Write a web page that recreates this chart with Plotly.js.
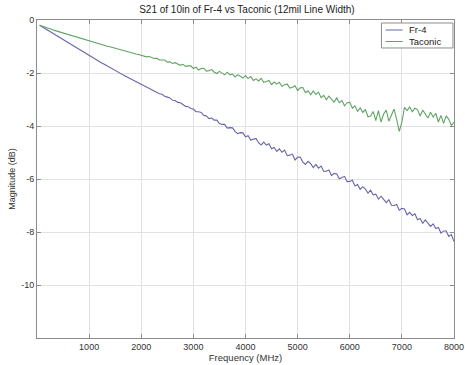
<!DOCTYPE html>
<html>
<head>
<meta charset="utf-8">
<script src="https://cdn.plot.ly/plotly-3.0.1.min.js"></script>
<style>html,body{margin:0;padding:0;background:#fff;}#chart{width:465px;height:365px;}</style>
</head>
<body>
<div id="chart"></div>
<script>
var freqMHz = [50,100,150,200,250,300,350,400,450,500,550,600,650,700,750,800,850,900,950,1000,
1050,1100,1150,1200,1250,1300,1350,1400,1450,1500,1550,1600,1650,1700,1750,1800,1850,1900,1950,2000,
2050,2100,2150,2200,2250,2300,2350,2400,2450,2500,2550,2600,2650,2700,2750,2800,2850,2900,2950,3000,
3050,3100,3150,3200,3250,3300,3350,3400,3450,3500,3550,3600,3650,3700,3750,3800,3850,3900,3950,4000,
4050,4100,4150,4200,4250,4300,4350,4400,4450,4500,4550,4600,4650,4700,4750,4800,4850,4900,4950,5000,
5050,5100,5150,5200,5250,5300,5350,5400,5450,5500,5550,5600,5650,5700,5750,5800,5850,5900,5950,6000,
6050,6100,6150,6200,6250,6300,6350,6400,6450,6500,6550,6600,6650,6700,6750,6800,6850,6900,6950,7000,
7050,7100,7150,7200,7250,7300,7350,7400,7450,7500,7550,7600,7650,7700,7750,7800,7850,7900,7950,8000];

var fr4dB = [-0.20,-0.26,-0.32,-0.38,-0.44,-0.50,-0.57,-0.63,-0.69,-0.75,-0.81,-0.87,-0.93,-0.99,-1.05,-1.11,-1.17,-1.23,-1.30,-1.36,
-1.41,-1.47,-1.52,-1.58,-1.63,-1.68,-1.74,-1.79,-1.85,-1.90,-1.96,-2.01,-2.07,-2.12,-2.17,-2.23,-2.28,-2.34,-2.40,-2.45,
-2.49,-2.55,-2.58,-2.64,-2.70,-2.72,-2.78,-2.80,-2.88,-2.91,-2.94,-3.03,-3.04,-3.11,-3.12,-3.19,-3.26,-3.27,-3.34,-3.36,
-3.46,-3.46,-3.49,-3.60,-3.62,-3.72,-3.70,-3.78,-3.78,-3.91,-3.94,-3.94,-4.08,-4.06,-4.07,-4.20,-4.29,-4.25,-4.26,-4.41,
-4.37,-4.53,-4.49,-4.47,-4.63,-4.72,-4.61,-4.72,-4.67,-4.86,-4.81,-4.96,-4.86,-4.99,-4.91,-5.12,-5.10,-5.06,-5.28,-5.18,
-5.17,-5.36,-5.45,-5.33,-5.42,-5.57,-5.45,-5.59,-5.51,-5.71,-5.71,-5.66,-5.87,-5.79,-5.81,-5.99,-5.94,-5.90,-6.10,-6.09,
-6.05,-6.26,-6.21,-6.39,-6.29,-6.38,-6.53,-6.42,-6.60,-6.57,-6.76,-6.65,-6.77,-6.89,-6.78,-6.99,-7.00,-6.96,-7.18,-7.11,
-7.13,-7.35,-7.26,-7.38,-7.31,-7.54,-7.49,-7.67,-7.54,-7.68,-7.79,-7.69,-7.87,-7.83,-8.04,-7.96,-7.96,-8.17,-8.10,-8.36];

var taconicdB = [-0.20,-0.24,-0.27,-0.30,-0.34,-0.37,-0.40,-0.43,-0.46,-0.49,-0.52,-0.55,-0.58,-0.62,-0.65,-0.68,-0.71,-0.74,-0.77,-0.80,
-0.83,-0.85,-0.88,-0.91,-0.93,-0.96,-0.99,-1.01,-1.04,-1.07,-1.09,-1.12,-1.15,-1.17,-1.20,-1.22,-1.25,-1.28,-1.30,-1.33,
-1.34,-1.39,-1.38,-1.43,-1.45,-1.45,-1.51,-1.51,-1.51,-1.59,-1.58,-1.64,-1.61,-1.66,-1.71,-1.67,-1.75,-1.73,-1.73,-1.83,
-1.78,-1.89,-1.83,-1.82,-1.93,-1.91,-1.87,-1.97,-2.02,-1.94,-1.99,-2.07,-1.97,-2.07,-2.04,-2.15,-2.06,-2.11,-2.19,-2.10,
-2.21,-2.13,-2.28,-2.22,-2.30,-2.20,-2.35,-2.32,-2.28,-2.44,-2.34,-2.42,-2.35,-2.51,-2.44,-2.41,-2.57,-2.54,-2.48,-2.66,
-2.56,-2.55,-2.74,-2.67,-2.82,-2.68,-2.81,-2.72,-2.93,-2.84,-3.01,-2.87,-2.97,-3.10,-2.94,-3.12,-3.04,-3.24,-3.13,-3.10,
-3.33,-3.24,-3.45,-3.31,-3.49,-3.38,-3.65,-3.62,-3.45,-3.80,-3.42,-3.85,-3.55,-3.40,-3.82,-3.60,-3.36,-3.75,-4.20,-3.85,
-3.30,-3.42,-3.28,-3.46,-3.33,-3.38,-3.62,-3.40,-3.55,-3.70,-3.48,-3.66,-3.52,-3.85,-3.60,-3.90,-3.62,-3.75,-3.98,-3.85];

var seriesNames = ['Fr-4', 'Taconic'];
var seriesColors = ['#6466a8', '#5fa465'];
var xTicks = [1000,2000,3000,4000,5000,6000,7000,8000];
var yTicks = [0,-2,-4,-6,-8,-10];

var font = 'Liberation Sans, Arial, sans-serif';
var traces = [
  {x: freqMHz, y: fr4dB, name: seriesNames[0], type: 'scatter', mode: 'lines',
   line: {color: seriesColors[0], width: 1.1}},
  {x: freqMHz, y: taconicdB, name: seriesNames[1], type: 'scatter', mode: 'lines',
   line: {color: seriesColors[1], width: 1.1}}
];

var axisCommon = {
  showline: true, linecolor: '#8c8c8c', linewidth: 1, mirror: 'allticks',
  ticks: 'inside', ticklen: 4, tickcolor: '#8c8c8c',
  showgrid: true, gridcolor: '#e2e2e2', gridwidth: 1, zeroline: false,
  ticklabeloverflow: 'allow',
  tickfont: {family: font, size: 9, color: '#333'}
};

// custom legend (paper coordinates)
var legBox = {x0: 0.826, x1: 0.9976, y0: 0.912, y1: 0.9906};
var legRows = [0.9686, 0.9324];
var shapes = [{type: 'rect', xref: 'paper', yref: 'paper', x0: legBox.x0, x1: legBox.x1, y0: legBox.y0, y1: legBox.y1,
  line: {color: '#8c8c8c', width: 1}, fillcolor: '#fff', layer: 'above'}];
var annotations = [];
seriesNames.forEach(function (nm, i) {
  shapes.push({type: 'line', xref: 'paper', yref: 'paper', x0: 0.836, x1: 0.877, y0: legRows[i], y1: legRows[i],
    line: {color: seriesColors[i], width: 1}, layer: 'above'});
  annotations.push({xref: 'paper', yref: 'paper', x: 0.888, y: legRows[i], xanchor: 'left', yanchor: 'middle',
    text: nm, showarrow: false, font: {family: font, size: 9.5, color: '#222'}});
});

var layout = {
  width: 465, height: 365,
  margin: {l: 37, r: 11, t: 20, b: 27},
  paper_bgcolor: '#fff', plot_bgcolor: '#fff',
  title: {text: 'S21 of 10in of Fr-4 vs Taconic (12mil Line Width)',
          font: {family: font, size: 10, color: '#222'}, x: 0.531, xanchor: 'center', y: 0.975, yanchor: 'middle'},
  xaxis: Object.assign({}, axisCommon, {
    range: [0, 8000], tickvals: xTicks, ticktext: xTicks.map(String),
    title: {text: 'Frequency (MHz)', font: {family: font, size: 9.5, color: '#333'}, standoff: 2}
  }),
  yaxis: Object.assign({}, axisCommon, {
    range: [-12, 0], tickvals: yTicks, ticktext: yTicks.map(String),
    title: {text: 'Magnitude (dB)', font: {family: font, size: 9, color: '#333'}, standoff: 4}
  }),
  showlegend: false,
  shapes: shapes,
  annotations: annotations
};

Plotly.newPlot('chart', traces, layout, {displayModeBar: false, staticPlot: true});
</script>
</body>
</html>
